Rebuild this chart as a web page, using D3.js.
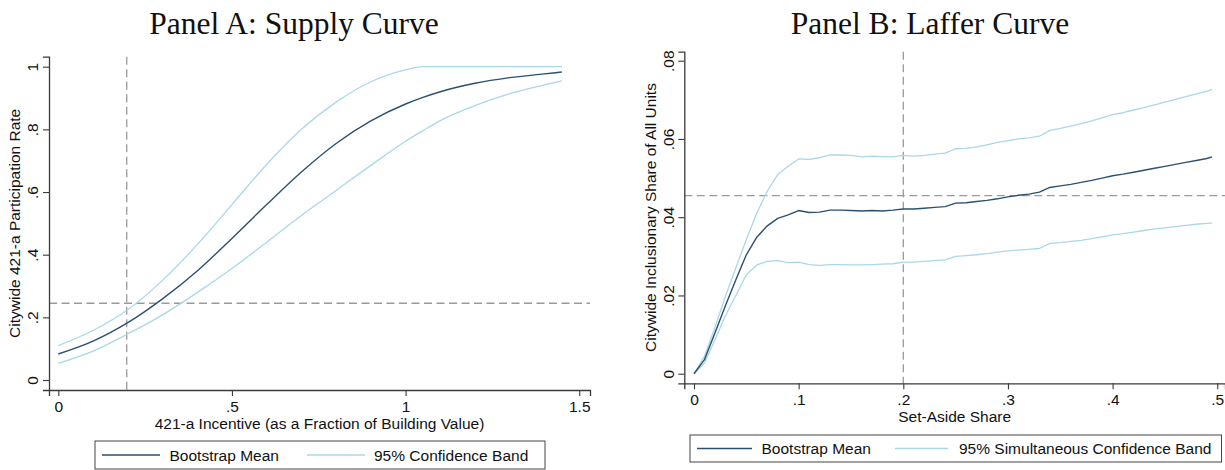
<!DOCTYPE html>
<html>
<head>
<meta charset="utf-8">
<script src="https://cdn.jsdelivr.net/npm/d3@7"></script>
<style>
  html, body { margin: 0; padding: 0; background: #fff; }
  svg { display: block; }
</style>
</head>
<body>
<svg id="chart" width="1225" height="470"></svg>
<script>
// ---- Panel A: supply curve of 421-a participation ----
const incentive   = [0, 0.1, 0.2, 0.3, 0.4, 0.5, 0.6, 0.7, 0.8, 0.9, 1.0, 1.05, 1.1, 1.2, 1.3, 1.4, 1.45];
const supplyMean  = [0.083, 0.124, 0.183, 0.259, 0.348, 0.452, 0.560, 0.664, 0.755, 0.827, 0.881, 0.902, 0.920, 0.947, 0.965, 0.977, 0.983];
const supplyUpper = [0.110, 0.158, 0.224, 0.318, 0.432, 0.560, 0.688, 0.800, 0.887, 0.952, 0.990, 1.000, 1.000, 1.000, 1.000, 1.000, 1.000];
const supplyLower = [0.053, 0.092, 0.147, 0.208, 0.279, 0.356, 0.440, 0.525, 0.605, 0.685, 0.762, 0.796, 0.828, 0.876, 0.914, 0.942, 0.955];
const supplyXTicks = [0, 0.5, 1, 1.5];
const supplyYTicks = [0, 0.2, 0.4, 0.6, 0.8, 1];
const supplyRefX = 0.197;   // current incentive level
const supplyRefY = 0.245;   // current participation rate

// ---- Panel B: Laffer curve of inclusionary units ----
const setAside = [0, 0.01, 0.02, 0.03, 0.04, 0.05, 0.06, 0.07, 0.08, 0.09,
  0.10, 0.11, 0.12, 0.13, 0.14, 0.15, 0.16, 0.17, 0.18, 0.19,
  0.20, 0.21, 0.22, 0.23, 0.24, 0.25, 0.26, 0.27, 0.28, 0.29,
  0.30, 0.31, 0.32, 0.33, 0.34, 0.35, 0.36, 0.37, 0.38, 0.39,
  0.40, 0.41, 0.42, 0.43, 0.44, 0.45, 0.46, 0.47, 0.48, 0.49, 0.495];
const lafferMean = [0, 0.0036, 0.0104, 0.0174, 0.0240, 0.0304, 0.0349, 0.0378, 0.0397, 0.0406,
  0.0417, 0.0412, 0.0413, 0.0418, 0.0418, 0.0417, 0.0416, 0.0417, 0.0416, 0.0418,
  0.0421, 0.0421, 0.0423, 0.0425, 0.0427, 0.0436, 0.0437, 0.0440, 0.0443, 0.0447,
  0.0452, 0.0456, 0.0459, 0.0464, 0.0476, 0.0480, 0.0484, 0.0489, 0.0494, 0.0500,
  0.0506, 0.0510, 0.0515, 0.0520, 0.0525, 0.0530, 0.0535, 0.0540, 0.0545, 0.0550, 0.0554];
const lafferUpper = [0, 0.0045, 0.0118, 0.0198, 0.0270, 0.0343, 0.0410, 0.0467, 0.0509, 0.0530,
  0.0549, 0.0548, 0.0552, 0.0559, 0.0559, 0.0558, 0.0554, 0.0556, 0.0555, 0.0554,
  0.0558, 0.0556, 0.0558, 0.0561, 0.0564, 0.0575, 0.0576, 0.0580, 0.0585, 0.0591,
  0.0596, 0.0600, 0.0603, 0.0607, 0.0622, 0.0627, 0.0633, 0.0639, 0.0646, 0.0654,
  0.0662, 0.0667, 0.0674, 0.0680, 0.0687, 0.0694, 0.0701, 0.0708, 0.0715, 0.0722, 0.0726];
const lafferLower = [0, 0.0027, 0.0087, 0.0148, 0.0200, 0.0253, 0.0278, 0.0287, 0.0289, 0.0284,
  0.0285, 0.0279, 0.0277, 0.0279, 0.0279, 0.0278, 0.0278, 0.0279, 0.0280, 0.0281,
  0.0285, 0.0285, 0.0287, 0.0289, 0.0291, 0.0300, 0.0302, 0.0304, 0.0307, 0.0311,
  0.0314, 0.0316, 0.0318, 0.0320, 0.0333, 0.0335, 0.0338, 0.0341, 0.0345, 0.0350,
  0.0355, 0.0358, 0.0362, 0.0366, 0.0370, 0.0373, 0.0376, 0.0379, 0.0382, 0.0384, 0.0385];
const lafferXTicks = [0, 0.1, 0.2, 0.3, 0.4, 0.5];
const lafferYTicks = [0, 0.02, 0.04, 0.06, 0.08];
const lafferRefX = 0.2;
const lafferRefY = 0.0455;

const legendMean = "Bootstrap Mean";

// ---- styling ----
const MEAN_COLOR = "#2b5070";
const BAND_COLOR = "#a9d8e8";
const REF_COLOR = "#9a9a9a";
const AXIS_COLOR = "#3a3a3a";
const SANS = "'Liberation Sans', Arial, Helvetica, sans-serif";
const SERIF = "'Liberation Serif', 'Times New Roman', serif";

// Stata-style numbers: drop the leading zero (".5", ".08")
const fmt = d => d === 0 ? "0" : String(+d.toFixed(4)).replace(/^0\./, ".");

const svg = d3.select("#chart");
svg.append("rect").attr("width", 1225).attr("height", 470).attr("fill", "#fff");

function drawPanel(cfg) {
  const g = svg.append("g");
  const x = d3.scaleLinear().domain(cfg.xDomain).range(cfg.xRange);
  const y = d3.scaleLinear().domain(cfg.yDomain).range(cfg.yRange);

  // title
  g.append("text")
    .attr("x", cfg.titleX).attr("y", 34)
    .attr("text-anchor", "middle")
    .style("font-family", SERIF).style("font-size", "31.5px").attr("fill", "#111")
    .text(cfg.title);

  // reference lines
  g.append("line")
    .attr("x1", x(cfg.refX)).attr("x2", x(cfg.refX))
    .attr("y1", cfg.yRange[1]).attr("y2", cfg.yRange[0])
    .attr("stroke", REF_COLOR).attr("stroke-width", 1.3).attr("stroke-dasharray", "8,4.5");
  g.append("line")
    .attr("x1", cfg.xRange[0]).attr("x2", cfg.xRange[1])
    .attr("y1", y(cfg.refY)).attr("y2", y(cfg.refY))
    .attr("stroke", REF_COLOR).attr("stroke-width", 1.3).attr("stroke-dasharray", "8,4.5");

  // series
  const line = d3.line()
    .x((d, i) => x(cfg.xs[i]))
    .y(d => y(d))
    .curve(cfg.curve);
  [[cfg.upper, BAND_COLOR, 1.3], [cfg.lower, BAND_COLOR, 1.3], [cfg.mean, MEAN_COLOR, 1.4]]
    .forEach(([vals, color, w]) => {
      g.append("path").datum(vals)
        .attr("d", line)
        .attr("fill", "none").attr("stroke", color).attr("stroke-width", w)
        .attr("stroke-linejoin", "round");
    });

  // x axis
  const xAxis = g.append("g")
    .attr("transform", `translate(0,${cfg.yRange[0]})`)
    .call(d3.axisBottom(x).tickValues(cfg.xTicks).tickFormat(fmt).tickSizeOuter(0).tickSize(6));
  xAxis.select(".domain").attr("stroke", AXIS_COLOR).attr("stroke-width", 1.3);
  xAxis.selectAll(".tick line").attr("stroke", AXIS_COLOR).attr("stroke-width", 1.1);
  xAxis.selectAll(".tick text")
    .attr("y", 22).attr("dy", 0)
    .style("font-family", SANS).style("font-size", "15.5px").attr("fill", "#111");

  // y axis with vertical tick labels
  const yAxis = g.append("g")
    .attr("transform", `translate(${cfg.xRange[0]},0)`)
    .call(d3.axisLeft(y).tickValues(cfg.yTicks).tickFormat(fmt).tickSizeOuter(0).tickSize(6));
  yAxis.select(".domain").attr("stroke", AXIS_COLOR).attr("stroke-width", 1.3);
  yAxis.selectAll(".tick line").attr("stroke", AXIS_COLOR).attr("stroke-width", 1.1);
  yAxis.selectAll(".tick text")
    .attr("x", 0).attr("y", 0).attr("dy", 0)
    .attr("text-anchor", "middle")
    .attr("transform", `translate(${cfg.yLabelOffset},0) rotate(-90)`)
    .style("font-family", SANS).style("font-size", "15.5px").attr("fill", "#111");

  // axis titles
  g.append("text")
    .attr("x", (cfg.xRange[0] + cfg.xRange[1]) / 2).attr("y", cfg.xTitleY)
    .attr("text-anchor", "middle")
    .style("font-family", SANS).style("font-size", "15.5px").attr("fill", "#111")
    .text(cfg.xTitle);
  const yMid = (cfg.yRange[0] + cfg.yRange[1]) / 2;
  g.append("text")
    .attr("transform", `translate(${cfg.yTitleX},${yMid}) rotate(-90)`)
    .attr("text-anchor", "middle")
    .style("font-family", SANS).style("font-size", "15.5px").attr("fill", "#111")
    .text(cfg.yTitle);

  // legend
  const L = cfg.legend;
  g.append("rect")
    .attr("x", L.x).attr("y", L.y).attr("width", L.w).attr("height", L.h)
    .attr("fill", "#fff").attr("stroke", "#444").attr("stroke-width", 1);
  const cy = L.y + L.h / 2;
  L.items.forEach(it => {
    g.append("line")
      .attr("x1", it.x1).attr("x2", it.x2).attr("y1", cy).attr("y2", cy)
      .attr("stroke", it.color).attr("stroke-width", it.color === MEAN_COLOR ? 1.4 : 1.3);
    g.append("text")
      .attr("x", it.tx).attr("y", cy + 5.5)
      .style("font-family", SANS).style("font-size", "15.5px").attr("fill", "#111")
      .text(it.label);
  });
}

drawPanel({
  title: "Panel A: Supply Curve", titleX: 294,
  xs: incentive, mean: supplyMean, upper: supplyUpper, lower: supplyLower,
  curve: d3.curveMonotoneX,
  xDomain: [-0.0268, 1.531], xRange: [49, 590],
  yDomain: [-0.0319, 1.0319], yRange: [390, 56.7],
  xTicks: supplyXTicks, yTicks: supplyYTicks,
  refX: supplyRefX, refY: supplyRefY,
  yLabelOffset: -11.5,
  xTitle: "421-a Incentive (as a Fraction of Building Value)", xTitleY: 428.5,
  yTitle: "Citywide 421-a Participation Rate", yTitleX: 19.5,
  legend: { x: 95, y: 441, w: 450, h: 28, items: [
    { x1: 102, x2: 160, tx: 169.5, color: MEAN_COLOR, label: legendMean },
    { x1: 307, x2: 365, tx: 374, color: BAND_COLOR, label: "95% Confidence Band" }
  ]}
});

drawPanel({
  title: "Panel B: Laffer Curve", titleX: 930,
  xs: setAside, mean: lafferMean, upper: lafferUpper, lower: lafferLower,
  curve: d3.curveLinear,
  xDomain: [-0.00927, 0.5074], xRange: [684.3, 1225],
  yDomain: [-0.00245, 0.0823], yRange: [383.3, 51.7],
  xTicks: lafferXTicks, yTicks: lafferYTicks,
  refX: lafferRefX, refY: lafferRefY,
  yLabelOffset: -10.8,
  xTitle: "Set-Aside Share", xTitleY: 422,
  yTitle: "Citywide Inclusionary Share of All Units", yTitleX: 656,
  legend: { x: 690, y: 435, w: 531.5, h: 27, items: [
    { x1: 697, x2: 752, tx: 761.5, color: MEAN_COLOR, label: legendMean },
    { x1: 895, x2: 948, tx: 959, color: BAND_COLOR, label: "95% Simultaneous Confidence Band" }
  ]}
});
</script>
</body>
</html>
